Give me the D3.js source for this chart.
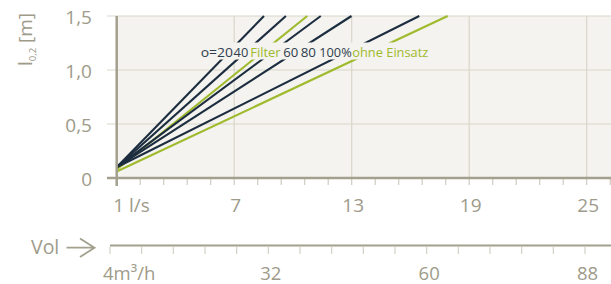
<!DOCTYPE html>
<html>
<head>
<meta charset="utf-8">
<script src="https://cdn.jsdelivr.net/npm/d3@7"></script>
<style>
  html, body { margin: 0; padding: 0; background: #ffffff; }
  svg { display: block; }
  text { font-family: "Open Sans", "Noto Sans", sans-serif; }
</style>
</head>
<body>
<script>
// ---------- DATA ----------
const seriesNames  = ["o=20", "40", "Filter", "60", "80", "100%", "ohne Einsatz"];
const seriesKind   = ["damper", "damper", "green", "damper", "damper", "damper", "green"];
const startFlow    = [1, 1, 1, 1, 1, 1, 1];             // l/s
const startValue   = [0.10, 0.10, 0.08, 0.10, 0.10, 0.10, 0.06]; // m
const endFlow      = [8.52, 9.64, 10.73, 11.42, 12.99, 16.45, 17.90]; // l/s
const endValue     = [1.5, 1.5, 1.5, 1.5, 1.5, 1.5, 1.5]; // m

const flowTickValues = [1, 7, 13, 19, 25];
const flowTickLabels = ["1 l/s", "7", "13", "19", "25"];
const volTickValues  = [4, 32, 60, 88];
const volTickLabels  = ["4m\u00B3/h", "32", "60", "88"];
const yTickValues    = [0, 0.5, 1.0, 1.5];
const yTickLabels    = ["0", "0,5", "1,0", "1,5"];

// ---------- LAYOUT / STYLE ----------
const W = 611, H = 284;
const colText = "#9e9b8a", colAxis = "#a3a08e", colGrid = "#d9d6c9", colBg = "#f4f3ef";
const colDark = "#1c2d3f", colGreen = "#9fba2c";
const kindColor = { damper: colDark, green: colGreen };
const legendX = [200.7, 233.6, 250.2, 283.3, 300.7, 319.3, 352.3];
const legendW = [32.3, 14.7, 30.5, 15, 15.3, 32.4, 76];

const svg = d3.select("body").append("svg").attr("width", W).attr("height", H);

const x = d3.scaleLinear().domain([1, 25]).range([116.7, 586.7]);
const y = d3.scaleLinear().domain([0, 1.5]).range([178, 16]);
const xv = d3.scaleLinear().domain([4, 88]).range([110, 585]);

// plot background
svg.append("rect").attr("x", x(1)).attr("y", y(1.5))
  .attr("width", W - x(1)).attr("height", y(0) - y(1.5)).attr("fill", colBg);

// horizontal gridlines (extend left of axis)
svg.append("g").selectAll("line").data(yTickValues.filter(v => v > 0)).join("line")
  .attr("x1", 107).attr("x2", W).attr("y1", d => y(d)).attr("y2", d => y(d))
  .attr("stroke", colGrid).attr("stroke-width", 1.2);

// vertical gridlines
svg.append("g").selectAll("line").data(flowTickValues.filter(v => v > 1)).join("line")
  .attr("x1", d => x(d)).attr("x2", d => x(d)).attr("y1", y(1.5)).attr("y2", y(0))
  .attr("stroke", colGrid).attr("stroke-width", 1.2);

// minor ticks on flow axis
const minorFlow = d3.range(0, 22).map(i => 1 + i * 1.2);
svg.append("g").selectAll("line").data(minorFlow).join("line")
  .attr("x1", d => x(d)).attr("x2", d => x(d)).attr("y1", y(0)).attr("y2", y(0) + 7)
  .attr("stroke", "#cfccbf").attr("stroke-width", 1.2);

// series lines
const line = d3.line().x(d => x(d[0])).y(d => y(d[1]));
const seriesData = seriesNames.map((n, i) => ({
  name: n, kind: seriesKind[i],
  pts: [[startFlow[i], startValue[i]], [endFlow[i], endValue[i]]]
}));
svg.append("g").selectAll("path").data(seriesData).join("path")
  .attr("d", d => line(d.pts)).attr("fill", "none")
  .attr("stroke", d => kindColor[d.kind]).attr("stroke-width", 2.1);

// legend box + labels
svg.append("rect").attr("x", 198).attr("y", 42.5).attr("width", 232).attr("height", 17)
  .attr("fill", colBg);
svg.append("g").selectAll("text").data(seriesData).join("text")
  .attr("x", (d, i) => legendX[i]).attr("y", 56.5)
  .attr("font-size", 13.5).attr("fill", d => d.kind === "green" ? colGreen : "#2e3d4d")
  .attr("textLength", (d, i) => legendW[i]).attr("lengthAdjust", "spacingAndGlyphs")
  .text(d => d.name);

// axes lines
svg.append("line").attr("x1", x(1)).attr("x2", x(1)).attr("y1", y(1.5)).attr("y2", y(0) + 8)
  .attr("stroke", colAxis).attr("stroke-width", 2.5);
svg.append("line").attr("x1", 107).attr("x2", W).attr("y1", y(0)).attr("y2", y(0))
  .attr("stroke", colAxis).attr("stroke-width", 2.5);

// y tick labels
svg.append("g").selectAll("text").data(yTickValues).join("text")
  .attr("x", 92).attr("y", d => y(d) + 1).attr("text-anchor", "end")
  .attr("dominant-baseline", "central")
  .attr("font-size", 19).attr("fill", colText)
  .text((d, i) => yTickLabels[i]);

// y title
const yt = svg.append("text").attr("transform", "translate(32,66) rotate(-90)")
  .attr("font-size", 19).attr("fill", colText);
yt.append("tspan").text("l");
yt.append("tspan").attr("font-size", 9.5).attr("dy", 4).text("0,2");
yt.append("tspan").attr("dy", -4).text(" [m]");

// flow tick labels
svg.append("g").selectAll("text").data(flowTickValues).join("text")
  .attr("x", (d, i) => i === 0 ? x(d) - 3.5 : x(d) + 1.5).attr("y", 212)
  .attr("text-anchor", (d, i) => i === 0 ? "start" : "middle")
  .attr("font-size", 19).attr("fill", colText)
  .text((d, i) => flowTickLabels[i]);

// volume axis
svg.append("line").attr("x1", xv(4)).attr("x2", W).attr("y1", 245.5).attr("y2", 245.5)
  .attr("stroke", colAxis).attr("stroke-width", 2.2);
const minorVol = d3.range(0, 16).map(i => 4 + i * 5.6);
svg.append("g").selectAll("line").data(minorVol).join("line")
  .attr("x1", d => xv(d)).attr("x2", d => xv(d)).attr("y1", 246.5).attr("y2", 254)
  .attr("stroke", "#d3d0c4").attr("stroke-width", 1.2);
svg.append("g").selectAll("text").data(volTickValues).join("text")
  .attr("x", (d, i) => i === 0 ? xv(d) - 7 : xv(d) + 2.5).attr("y", 279.5)
  .attr("text-anchor", (d, i) => i === 0 ? "start" : "middle")
  .attr("font-size", 18.5).attr("fill", colText)
  .text((d, i) => volTickLabels[i]);

// "Vol ->"
svg.append("text").attr("x", 31).attr("y", 253.5).attr("font-size", 19.5)
  .attr("fill", colText).text("Vol");
svg.append("path").attr("d", "M66.5,247.7 H94.5 M80,238.5 L94.5,247.7 L80,257")
  .attr("fill", "none").attr("stroke", colAxis).attr("stroke-width", 1.8);
</script>
</body>
</html>
